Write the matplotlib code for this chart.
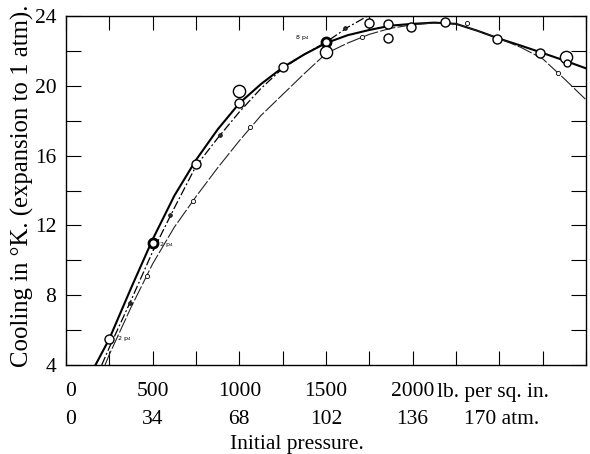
import matplotlib
matplotlib.use("Agg")
import matplotlib.pyplot as plt
import matplotlib.transforms as mtransforms

# ---- data ----
# upper (thick solid) curve
upper_x = [170, 250, 375, 500, 625, 750, 875, 1000, 1125, 1250, 1375, 1500, 1625,
           1750, 1875, 2000, 2125, 2250, 2375, 2500, 2625, 2750, 2875, 3000]
upper_y = [4.0, 5.5, 8.4, 11.2, 13.7, 15.75, 17.5, 19.0, 20.1, 21.05, 21.8, 22.45, 22.9,
           23.2, 23.45, 23.55, 23.62, 23.55, 23.15, 22.7, 22.3, 21.88, 21.45, 21.0]

# middle (dash-dot) curve
middle_x = [206, 250, 375, 500, 625, 750, 875, 1000, 1125, 1250, 1375, 1500, 1625, 1740]
middle_y = [4.0, 5.0, 7.7, 10.5, 13.0, 15.4, 17.0, 18.5, 19.85, 21.0, 21.8, 22.5, 23.35, 24.0]

# lower (thin) curve
lower_x = [225, 250, 375, 500, 625, 750, 875, 1000, 1125, 1250, 1375, 1500, 1625, 1750,
           1875, 2000, 2125, 2250, 2375, 2500, 2625, 2750, 2875, 3000]
lower_y = [4.0, 4.6, 7.3, 9.8, 11.9, 13.65, 15.3, 16.85, 18.3, 19.5, 20.7, 21.85, 22.45, 22.95,
           23.3, 23.5, 23.6, 23.55, 23.15, 22.7, 22.2, 21.55, 20.4, 19.2]

# large open circles (observations)
obs_x = [250, 500, 750, 1000, 1000, 1250, 1500, 1500, 1750, 1860, 1860, 1990, 2186, 2484, 2737, 2884, 2890]
obs_y = [5.5, 11.0, 15.5, 19.7, 19.0, 21.05, 22.5, 21.95, 23.58, 23.52, 22.75, 23.37, 23.64, 22.68, 21.87, 21.63, 21.28]
obs_kind = ['n', 'b', 'n', 'L', 'n', 'n', 'b', 'L', 'n', 'n', 'n', 'n', 'n', 'n', 'n', 'L', 's']

# small markers on the middle curve
mid_pts_x = [369, 600, 888, 1609]
mid_pts_y = [7.55, 12.62, 17.2, 23.3]

# small markers on the lower curve
low_pts_x = [465, 734, 1061, 1705, 2311, 2839]
low_pts_y = [9.1, 13.4, 17.64, 22.78, 23.6, 20.72]

# small annotations
ann_text = ['2 p₄', '2 p₄', '8 p₄']
ann_x = [545, 300, 1326]
ann_y = [10.9, 5.5, 22.75]

# axis labels
lb_ticks = [0, 500, 1000, 1500, 2000]
lb_labels = ['0', '500', '1000', '1500', '2000']
atm_labels = ['0', '34', '68', '102', '136']
y_ticks = [4, 8, 12, 16, 20, 24]

FONT = 'Liberation Serif'
FS = 15.5

fig = plt.figure(figsize=(5.9, 4.54), dpi=100)
ax = fig.add_axes([66 / 590, 1 - 365 / 454, 520 / 590, 349 / 454])

ax.plot(upper_x, upper_y, color='black', lw=1.5, solid_capstyle='round')
ax.plot(middle_x, middle_y, color='black', lw=0.9, linestyle=(0, (7, 2, 1.5, 2)))
ax.plot(lower_x, lower_y, color='#222222', lw=0.8, linestyle=(0, (14, 2)))

size_map = {'n': 6.5, 'b': 6.5, 'L': 8.8, 's': 5.0}
for x, y, k in zip(obs_x, obs_y, obs_kind):
    ax.plot([x], [y], marker='o', ms=size_map[k], mfc='white',
            mec='black', mew=2.0 if k == 'b' else 1.0, zorder=5)

ax.plot(mid_pts_x, mid_pts_y, linestyle='none', marker='o', ms=2.6,
        mfc='#333333', mec='black', mew=0.6, zorder=5)
ax.plot(low_pts_x, low_pts_y, linestyle='none', marker='o', ms=3.0,
        mfc='white', mec='black', mew=0.6, zorder=5)

for t, x, y in zip(ann_text, ann_x, ann_y):
    ax.text(x, y, t, fontsize=4.5, family='DejaVu Sans', ha='left', va='center')

ax.set_xlim(0, 3000)
ax.set_ylim(4, 24)

ax.set_xticks(list(range(0, 3001, 250)))
ax.set_xticklabels([])
ax.set_yticks(y_ticks)
ax.set_yticks([6, 10, 14, 18, 22], minor=True)
ax.set_yticklabels([str(v) for v in y_ticks], fontsize=FS, family=FONT)

ax.tick_params(axis='x', which='both', direction='in', top=True, bottom=True,
               length=10, width=0.8, labelbottom=False)
ax.tick_params(axis='y', which='both', direction='in', left=True, right=True,
               length=11, width=0.8, pad=7)

for s in ax.spines.values():
    s.set_linewidth(1.0)

trans = mtransforms.blended_transform_factory(ax.transData, fig.transFigure)
row1 = 1 - 392 / 454
row2 = 1 - 419 / 454
for x, l1, l2 in zip(lb_ticks, lb_labels, atm_labels):
    xx = x if x > 0 else 25
    ax.text(xx, row1, l1, transform=trans, ha='center', va='center',
            fontsize=FS, family=FONT)
    ax.text(xx, row2, l2, transform=trans, ha='center', va='center',
            fontsize=FS, family=FONT)
fig.text(437 / 590, row1, 'lb. per sq. in.', ha='left', va='center',
         fontsize=FS, family=FONT)
fig.text(464 / 590, row2, '170 atm.', ha='left', va='center',
         fontsize=FS, family=FONT)
fig.text(0.504, 1 - 445 / 454, 'Initial pressure.', ha='center', va='center',
         fontsize=FS, family=FONT)
fig.text(22 / 590, 1 - 186 / 454, 'Cooling in °K. (expansion to 1 atm).',
         rotation=90, ha='center', va='center', fontsize=17.8, family=FONT)

fig.savefig('out.png', dpi=100)
